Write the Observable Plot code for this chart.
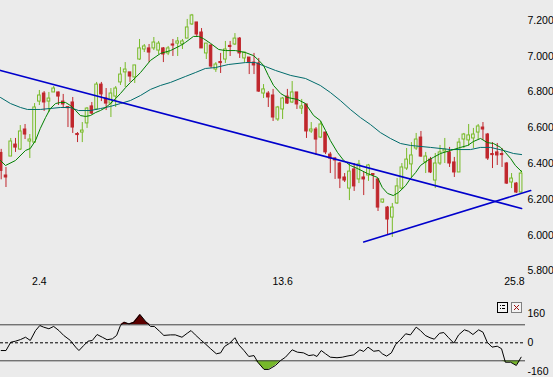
<!DOCTYPE html>
<html><head><meta charset="utf-8">
<script src="https://cdn.jsdelivr.net/npm/d3@7"></script>
<script src="https://cdn.jsdelivr.net/npm/@observablehq/plot@0.6"></script>
<style>
html,body{margin:0;padding:0;background:#ebebeb;}
#chart{position:relative;width:553px;height:377px;overflow:hidden;background:#ebebeb;font-family:"Liberation Sans",Arial,sans-serif;}
#chart svg{display:block;}
.btn{position:absolute;top:302px;width:11px;height:11px;box-sizing:border-box;}
</style></head><body><div id="chart"></div>
<script>
// ---- price candles (one per trading day) ----
const opens = [6.46,6.334,6.44,6.507,6.479,6.591,6.524,6.518,6.747,6.792,6.747,6.798,6.798,6.747,6.716,6.742,6.566,6.574,6.625,6.720,
6.703,6.842,6.764,6.736,6.775,6.854,6.910,6.910,6.882,6.982,7.038,7.044,7.044,7.032,7.044,7.016,7.066,7.071,7.066,7.099,
7.178,7.189,7.133,7.016,7.060,6.926,6.968,6.982,7.058,7.066,7.099,6.988,6.993,6.965,6.960,6.792,6.792,6.781,6.647,6.703,
6.775,6.742,6.798,6.708,6.731,6.580,6.591,6.546,6.574,6.451,6.429,6.401,6.323,6.261,6.368,6.312,6.323,6.334,6.342,6.312,
6.183,6.155,6.099,6.178,6.261,6.373,6.396,6.485,6.546,6.407,6.423,6.306,6.401,6.468,6.463,6.407,6.351,6.535,6.530,6.541,
6.574,6.602,6.563,6.454,6.463,6.454,6.401,6.295,6.289,6.239];
const highs = [6.48,6.379,6.541,6.541,6.613,6.619,6.563,6.736,6.809,6.803,6.798,6.831,6.80,6.787,6.716,6.770,6.574,6.630,6.714,6.742,
6.854,6.854,6.820,6.820,6.831,6.937,6.965,6.910,6.949,7.094,7.066,7.066,7.105,7.083,7.049,7.055,7.094,7.105,7.094,7.206,
7.234,7.189,7.155,7.071,7.066,6.965,7.016,7.083,7.083,7.127,7.105,7.021,6.993,7.016,6.988,6.842,6.803,6.815,6.720,6.770,
6.815,6.859,6.798,6.759,6.731,6.630,6.602,6.636,6.574,6.463,6.435,6.407,6.345,6.396,6.401,6.418,6.351,6.396,6.345,6.317,
6.200,6.161,6.178,6.317,6.401,6.485,6.518,6.569,6.580,6.463,6.435,6.457,6.502,6.541,6.491,6.435,6.541,6.569,6.619,6.597,
6.619,6.630,6.569,6.518,6.513,6.485,6.407,6.345,6.295,6.362];
const lows = [6.31,6.267,6.44,6.463,6.474,6.535,6.429,6.513,6.725,6.692,6.686,6.798,6.725,6.708,6.602,6.569,6.518,6.518,6.597,6.675,
6.697,6.747,6.697,6.658,6.714,6.837,6.826,6.854,6.848,6.977,7.021,6.965,7.032,7.010,6.965,7.004,6.999,6.999,7.038,7.099,
7.172,7.105,7.044,6.982,6.932,6.910,6.904,6.960,6.999,7.060,6.988,6.965,6.898,6.898,6.798,6.764,6.714,6.636,6.636,6.647,
6.731,6.736,6.703,6.675,6.541,6.569,6.446,6.541,6.451,6.345,6.312,6.261,6.295,6.194,6.245,6.289,6.222,6.301,6.256,6.133,
6.178,6.004,5.988,6.172,6.256,6.362,6.323,6.474,6.435,6.345,6.345,6.261,6.390,6.401,6.379,6.323,6.351,6.485,6.496,6.485,
6.535,6.530,6.418,6.373,6.390,6.379,6.284,6.261,6.233,6.233];
const closes = [6.36,6.323,6.524,6.490,6.580,6.563,6.535,6.714,6.781,6.742,6.764,6.820,6.775,6.731,6.710,6.602,6.560,6.585,6.708,6.680,
6.842,6.787,6.736,6.792,6.820,6.898,6.926,6.887,6.949,7.044,7.055,7.021,7.077,7.071,7.010,7.044,7.060,7.083,7.083,7.161,
7.228,7.122,7.044,7.071,6.943,6.954,6.962,7.038,7.052,7.099,7.016,7.021,6.965,6.949,6.803,6.815,6.770,6.658,6.714,6.764,
6.736,6.798,6.731,6.720,6.580,6.591,6.535,6.619,6.463,6.429,6.418,6.317,6.306,6.356,6.273,6.396,6.312,6.390,6.337,6.155,
6.200,6.088,6.155,6.273,6.379,6.423,6.446,6.535,6.440,6.440,6.351,6.401,6.463,6.479,6.401,6.351,6.518,6.563,6.558,6.563,
6.608,6.591,6.429,6.448,6.446,6.448,6.289,6.317,6.239,6.345];

// ---- moving averages (day index, price) ----
const shortMaDay = [-0.15,0.9,3.0,5.1,6.1,7.2,8.2,9.3,10.3,11.4,12.4,13.5,14.5,15.6,16.6,17.7,18.7,19.8,20.8,21.9,22.9,24.0,25.0,26.1,27.1,28.2,29.2,31.3,33.4,35.5,37.6,38.6,40.3,41.4,42.4,43.9,45.6,47.0,49.1,51.2,52.9,54.0,55.0,56.0,57.1,58.6,60.0,62.1,63.8,65.5,66.9,68.0,69.0,70.5,71.8,73.2,74.7,76.8,78.9,79.9,81.0,82.2,83.3,84.8,85.8,86.9,87.9,89.4,90.6,92.1,94.2,96.3,97.8,99.0,100.5,101.9,103.2,104.7,105.7,106.8,107.8,109.1];
const shortMaVal = [6.418,6.390,6.418,6.474,6.485,6.530,6.597,6.658,6.708,6.736,6.742,6.742,6.725,6.697,6.669,6.664,6.669,6.686,6.697,6.714,6.736,6.764,6.792,6.826,6.854,6.882,6.909,6.977,7.016,7.032,7.060,7.077,7.111,7.111,7.099,7.072,7.038,7.032,7.032,7.021,7.004,6.977,6.949,6.893,6.837,6.792,6.770,6.759,6.736,6.669,6.641,6.585,6.530,6.463,6.418,6.390,6.373,6.345,6.323,6.267,6.234,6.222,6.239,6.278,6.317,6.351,6.390,6.418,6.435,6.457,6.474,6.491,6.502,6.524,6.541,6.518,6.513,6.491,6.463,6.429,6.390,6.356];
const longMaDay = [-0.15,1.95,4.05,5.5,8.2,12.4,14.5,16.2,18.7,20.8,22.9,25.0,27.1,29.2,31.3,33.4,35.5,38.6,40.7,42.8,44.9,47.6,51.2,53.3,55.4,57.5,60.7,63.8,66.9,69.0,71.1,73.2,75.3,77.4,79.5,81.6,83.7,85.8,90.0,94.2,98.4,100.5,102.6,105.3,107.4,109.1];
const longMaVal = [6.770,6.736,6.714,6.703,6.703,6.714,6.714,6.697,6.697,6.708,6.720,6.736,6.753,6.781,6.815,6.837,6.854,6.887,6.909,6.932,6.937,6.954,6.965,6.965,6.943,6.921,6.893,6.876,6.837,6.798,6.753,6.703,6.658,6.619,6.574,6.541,6.513,6.502,6.491,6.479,6.479,6.491,6.491,6.474,6.457,6.451];

// ---- trend lines (start / end) ----
const trendDownDay = [-0.15, 109.1], trendDownVal = [6.921, 6.150];
const trendUpDay = [76, 111], trendUpVal = [5.963, 6.250];

// ---- oscillator (CCI) ----
const cciDay = [0,1,2,3,4.05,5.1,6.1,7.2,8.1,8.9,10,11,12.1,13.1,14.5,15.6,16.3,17.3,18.2,19.1,20.1,21.2,22.2,23.3,24.2,25,25.8,26.8,27.8,29.1,30.3,31.3,32.1,33.2,34.1,35.5,36.5,37.9,39,39.8,40.7,41.8,42.8,43.9,45.1,46,46.8,47.9,49,49.8,50.9,51.9,53,53.8,55.1,56.1,57.5,58.6,59.6,61,62.1,63.4,64.5,65.5,66.2,67.1,68,69,70.4,71.5,72.5,73.9,75.2,76,76.9,78.1,79.2,79.9,80.8,81.8,82.7,83.7,84.8,85.8,87,87.9,88.9,89.9,90.8,91.9,92.8,93.8,94.9,95.9,97.1,98,98.9,100.1,101,101.9,102.9,104,104.9,105.7,106.8,108,109];
const cciVal = [-43,-43,3,9,18,31,13,68,96,87,78,91,68,41,13,-24,-43,-15,9,13,46,31,17,22,41,96,114,105,114,157,118,91,91,64,41,44,44,31,53,68,44,17,-6,-33,-61,-56,-21,-2,28,-11,-43,-76,-71,-108,-148,-148,-126,-98,-80,-39,-52,-56,-71,-67,-76,-43,-61,-80,-83,-80,-74,-67,-39,-48,-24,-47,-43,-61,-74,-56,-9,17,50,44,87,68,41,28,20,53,57,28,-2,44,72,64,46,72,59,3,-24,-19,-33,-108,-108,-126,-80];

// ---- axes ----
const priceTicks = [5.8, 6.0, 6.2, 6.4, 6.6, 6.8, 7.0, 7.2];
const dateTickDay = [8, 59, 107.6];
const dateTickLabel = ["2.4", "13.6", "25.8"];
const cciTicks = [160, 0, -160];
const cciBands = [100, -100];

// ---- build ----
const BG = "#ebebeb", RED = "#c0272d", GREEN = "#78bb28";
const candles = opens.map((o, i) => ({i, o, h: highs[i], l: lows[i], c: closes[i], up: closes[i] >= o}));
const shortMa = shortMaDay.map((d, k) => ({d, v: shortMaVal[k]}));
const longMa = longMaDay.map((d, k) => ({d, v: longMaVal[k]}));
const tDown = trendDownDay.map((d, k) => ({d, v: trendDownVal[k]}));
const tUp = trendUpDay.map((d, k) => ({d, v: trendUpVal[k]}));
const cci = cciDay.map((d, k) => ({d, v: cciVal[k]}));
const dateLabel = new Map(dateTickDay.map((d, k) => [d, dateTickLabel[k]]));
const xDomain = [-0.147, 109.92];
const font = {background: "transparent", fontFamily: "'Liberation Sans', Arial, sans-serif", fontSize: "10.5px", color: "#000", overflow: "hidden"};

const main = Plot.plot({
  width: 553, height: 290, marginTop: 0, marginBottom: 19.4, marginLeft: 0, marginRight: 28,
  style: font,
  x: {domain: xDomain},
  y: {domain: [5.8, 7.31173]},
  marks: [
    Plot.ruleX(candles, {x: "i", y1: "l", y2: "h", stroke: d => d.up ? GREEN : RED, strokeWidth: 1}),
    Plot.rect(candles.filter(d => !d.up), {x1: d => d.i - 0.26, x2: d => d.i + 0.26, y1: "o", y2: "c", fill: RED, stroke: RED, strokeWidth: 1}),
    Plot.rect(candles.filter(d => d.up), {x1: d => d.i - 0.28, x2: d => d.i + 0.28, y1: "o", y2: "c", fill: BG, stroke: GREEN, strokeWidth: 1}),
    Plot.line(longMa, {x: "d", y: "v", stroke: "#006b6b", strokeWidth: 1}),
    Plot.line(shortMa, {x: "d", y: "v", stroke: "#008000", strokeWidth: 1}),
    Plot.line(tDown, {x: "d", y: "v", stroke: "#0000cc", strokeWidth: 1.6}),
    Plot.line(tUp, {x: "d", y: "v", stroke: "#0000cc", strokeWidth: 1.6}),
    Plot.axisY({anchor: "right", ticks: priceTicks, tickFormat: d => d.toFixed(3), tickSize: 0, tickPadding: 2, label: null}),
    Plot.axisX({ticks: dateTickDay, tickFormat: d => dateLabel.get(d), tickSize: 0, tickPadding: 6, label: null})
  ]
});

const osc = Plot.plot({
  width: 553, height: 87, marginTop: 0, marginBottom: 0, marginLeft: 0, marginRight: 28,
  style: font,
  x: {domain: xDomain, axis: null},
  y: {domain: [-192.8, 290.6]},
  marks: [
    Plot.areaY(cci, {x: "d", y1: 100, y2: d => Math.max(d.v, 100), fill: "#5c0000"}),
    Plot.areaY(cci, {x: "d", y1: -100, y2: d => Math.min(d.v, -100), fill: "#76b82a"}),
    Plot.ruleY(cciBands, {stroke: "#404040", strokeWidth: 1}),
    Plot.ruleY([0], {stroke: "#000", strokeDasharray: "3,2", strokeWidth: 1}),
    Plot.line(cci, {x: "d", y: "v", stroke: "#000", strokeWidth: 1}),
    Plot.axisY({anchor: "right", ticks: cciTicks, tickFormat: d => String(d), tickSize: 0, tickPadding: 2, label: null})
  ]
});

const root = document.getElementById("chart");
root.appendChild(main);
root.appendChild(osc);

const b1 = document.createElement("div");
b1.className = "btn";
b1.style.cssText += "left:497px;border:1px solid #000;background:#f3f3f3;";
b1.innerHTML = '<svg width="9" height="9" style="display:block"><rect x="2" y="2" width="1" height="1" fill="#000"/><rect x="4" y="2" width="3" height="1" fill="#000"/><rect x="2" y="5" width="1" height="1" fill="#000"/><rect x="4" y="5" width="3" height="1" fill="#000"/></svg>';
root.appendChild(b1);
const b2 = document.createElement("div");
b2.className = "btn";
b2.style.cssText += "left:511px;border:1px solid #808080;background:#f3f3f3;";
b2.innerHTML = '<svg width="9" height="9" style="display:block"><path d="M2,2L7,7M7,2L2,7" stroke="#a01010" stroke-width="1"/></svg>';
root.appendChild(b2);
</script>
</body></html>
